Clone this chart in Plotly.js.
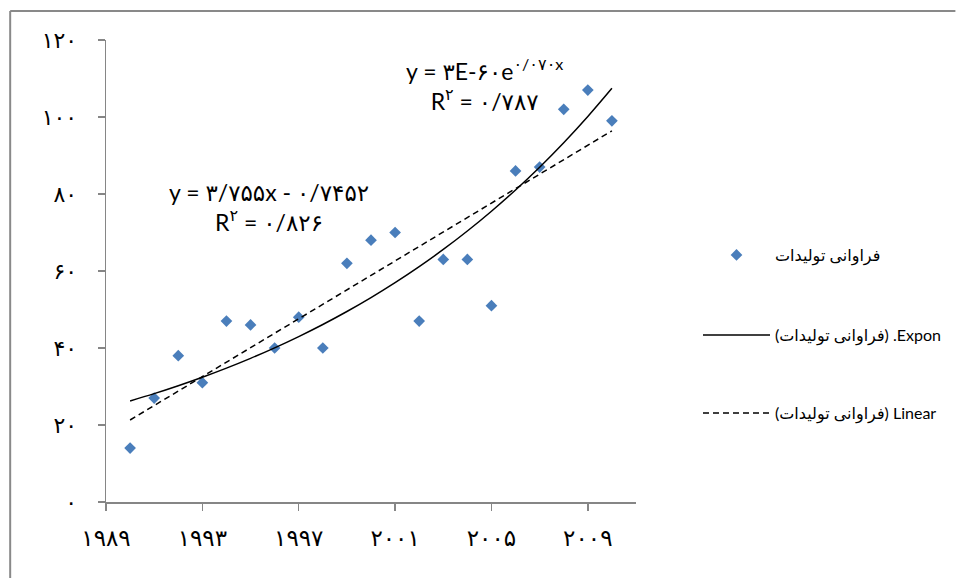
<!DOCTYPE html>
<html>
<head>
<meta charset="utf-8">
<script src="https://cdn.plot.ly/plotly-3.0.1.min.js"></script>
<style>
html,body{margin:0;padding:0;background:#fff;overflow:hidden;}
#chart{width:957px;height:578px;}
</style>
</head>
<body>
<div id="chart"></div>
<script>
// ---- data ----
var years = [1990, 1991, 1992, 1993, 1994, 1995, 1996, 1997, 1998, 1999, 2000,
             2001, 2002, 2003, 2004, 2005, 2006, 2007, 2008, 2009, 2010];
var values = [14, 27, 38, 31, 47, 46, 40, 48, 40, 62, 68,
              70, 47, 63, 63, 51, 86, 87, 102, 107, 99];
var seriesName = 'فراوانی تولیدات';
var exponName = '(فراوانی تولیدات) .Expon';
var linearName = '(فراوانی تولیدات) Linear';
var xTickVals = [1989, 1993, 1997, 2001, 2005, 2009];
var xTickText = ['۱۹۸۹', '۱۹۹۳', '۱۹۹۷', '۲۰۰۱', '۲۰۰۵', '۲۰۰۹'];
var yTickVals = [0, 20, 40, 60, 80, 100, 120];
var yTickText = ['۰', '۲۰', '۴۰', '۶۰', '۸۰', '۱۰۰', '۱۲۰'];
var linearEq = 'y = ۳/۷۵۵x - ۰/۷۴۵۲<br>R<sup>۲</sup> = ۰/۸۲۶';
var exponEq = 'y = ۳E-۶۰e<sup>۰/۰۷۰x</sup><br>R<sup>۲</sup> = ۰/۷۸۷';

// ---- least-squares trendlines (x = point index 1..n, as Excel does) ----
function fit(xs, ys) {
  var n = xs.length, sx = 0, sy = 0, sxx = 0, sxy = 0;
  for (var i = 0; i < n; i++) { sx += xs[i]; sy += ys[i]; sxx += xs[i]*xs[i]; sxy += xs[i]*ys[i]; }
  var b = (n*sxy - sx*sy) / (n*sxx - sx*sx);
  return {b: b, a: (sy - b*sx) / n};
}
var idx = years.map(function (_, i) { return i + 1; });
var lin = fit(idx, values);
var ex = fit(idx, values.map(function (v) { return Math.log(v); }));
var linY = idx.map(function (k) { return lin.a + lin.b * k; });
var expY = idx.map(function (k) { return Math.exp(ex.a + ex.b * k); });

// ---- layout geometry ----
var W = 957, H = 578, ML = 106, MR = 320, MT = 40, MB = 76;
var PW = W - ML - MR, PH = H - MT - MB;
function px(x) { return (x - ML) / PW; }
function py(y) { return (H - MB - y) / PH; }

var axisColor = '#868686';
var txtFont = 'Lato, "DejaVu Sans", sans-serif';
var digitFont = '"DejaVu Sans", sans-serif';

var traces = [
  {x: years, y: values, type: 'scatter', mode: 'markers', name: seriesName,
   marker: {symbol: 'diamond', size: 9, color: '#4A7EBB'}, legend: 'legend', cliponaxis: false},
  {x: years, y: expY, type: 'scatter', mode: 'lines', name: exponName,
   line: {color: '#000', width: 1.5, shape: 'spline'}, legend: 'legend2'},
  {x: years, y: linY, type: 'scatter', mode: 'lines', name: linearName,
   line: {color: '#000', width: 1.5, dash: '6px,4px'}, legend: 'legend3'}
];

function leg(yPix) {
  return {x: px(698), y: py(yPix), xanchor: 'left', yanchor: 'middle',
          itemwidth: 67, bgcolor: 'rgba(0,0,0,0)',
          font: {family: txtFont, size: 16, color: '#000'}};
}

var frameColor = '#898989';
var layout = {
  width: W, height: H,
  margin: {l: ML, r: MR, t: MT, b: MB, pad: 0},
  paper_bgcolor: '#fff', plot_bgcolor: '#fff',
  showlegend: true,
  legend: leg(255), legend2: leg(335), legend3: leg(413),
  xaxis: {range: [1989, 2011], tickvals: xTickVals, ticktext: xTickText,
          showgrid: false, zeroline: false, showline: true, linecolor: axisColor, linewidth: 1.5,
          ticks: 'outside', ticklen: 7, tickwidth: 1.5, tickcolor: axisColor,
          ticklabelstandoff: 8,
          tickfont: {family: digitFont, size: 23, color: '#000'}},
  yaxis: {range: [0, 120], tickvals: yTickVals, ticktext: yTickText,
          showgrid: false, zeroline: false, showline: true, linecolor: axisColor, linewidth: 1.5,
          ticks: 'outside', ticklen: 7, tickwidth: 1.5, tickcolor: axisColor,
          ticklabelstandoff: 16,
          tickfont: {family: digitFont, size: 22, color: '#000'}},
  annotations: [
    {xref: 'paper', yref: 'paper', x: px(269), y: py(207), xanchor: 'center', yanchor: 'middle',
     text: linearEq, showarrow: false, align: 'center',
     font: {family: txtFont, size: 23, color: '#000'}},
    {xref: 'paper', yref: 'paper', x: px(485), y: py(84), xanchor: 'center', yanchor: 'middle',
     text: exponEq, showarrow: false, align: 'center',
     font: {family: txtFont, size: 23, color: '#000'}}
  ],
  shapes: [
    {type: 'line', xref: 'paper', yref: 'paper', x0: px(10), y0: py(11), x1: px(957), y1: py(11),
     line: {color: frameColor, width: 2}, layer: 'above'},
    {type: 'line', xref: 'paper', yref: 'paper', x0: px(10), y0: py(11), x1: px(10), y1: py(578),
     line: {color: frameColor, width: 2}, layer: 'above'}
  ]
};

Plotly.newPlot('chart', traces, layout, {displayModeBar: false, staticPlot: true});
</script>
</body>
</html>
